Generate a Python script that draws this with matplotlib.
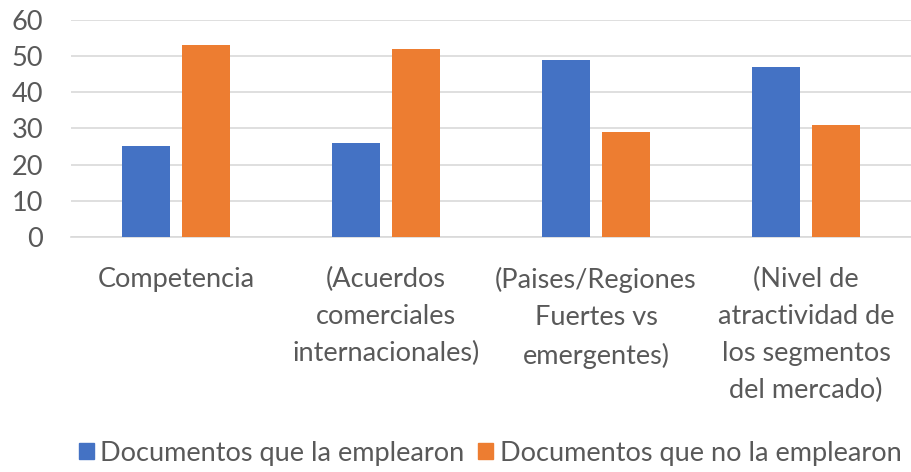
import numpy as np
import matplotlib
matplotlib.use("Agg")
import matplotlib.pyplot as plt
from matplotlib.patches import Patch

categories = [
    "Competencia",
    "(Acuerdos\ncomerciales\ninternacionales)",
    "(Paises/Regiones\nFuertes vs\nemergentes)",
    "(Nivel de\natractividad de\nlos segmentos\ndel mercado)",
]
used = [25, 26, 49, 47]
not_used = [53, 52, 29, 31]
series_names = ["Documentos que la emplearon", "Documentos que no la emplearon"]

blue = "#4472C4"
orange = "#ED7D31"
text_color = "#595959"

plt.rcParams['font.family'] = ['Lato', 'DejaVu Sans']
fsize = 19.5

fig = plt.figure(figsize=(9.11, 4.72), dpi=100)
ax = fig.add_axes([0.078, 0.498, 0.922, 0.46])

x = np.arange(len(categories))
width = 0.229
offset = 0.143
ax.bar(x - offset, used, width, color=blue, zorder=3)
ax.bar(x + offset, not_used, width, color=orange, zorder=3)

ax.set_xlim(-0.5, len(categories) - 0.5)
ax.set_ylim(0, 60)
ax.set_yticks(range(0, 61, 10))
ax.yaxis.grid(True, color="#D9D9D9", linewidth=1.2, zorder=0)
ax.tick_params(axis="y", length=0, labelsize=fsize, labelcolor=text_color, pad=20)
ax.set_xticks([])
for side in ["top", "right", "left"]:
    ax.spines[side].set_visible(False)
ax.spines["bottom"].set_color("#D9D9D9")
ax.spines["bottom"].set_linewidth(1.2)

# category labels below the axis
for xi, label in zip(x, categories):
    ax.text(xi, -8.3, label, ha="center", va="top", fontsize=fsize,
            color=text_color, linespacing=1.6, transform=ax.transData,
            clip_on=False)

handles = [Patch(color=blue), Patch(color=orange)]
fig.legend(handles, series_names, loc="center", bbox_to_anchor=(0.538, 0.04),
           ncol=2, frameon=False, fontsize=fsize, labelcolor=text_color,
           handlelength=0.55, handleheight=0.55, handletextpad=0.25,
           columnspacing=0.5)

fig.savefig("out.png", dpi=100)
